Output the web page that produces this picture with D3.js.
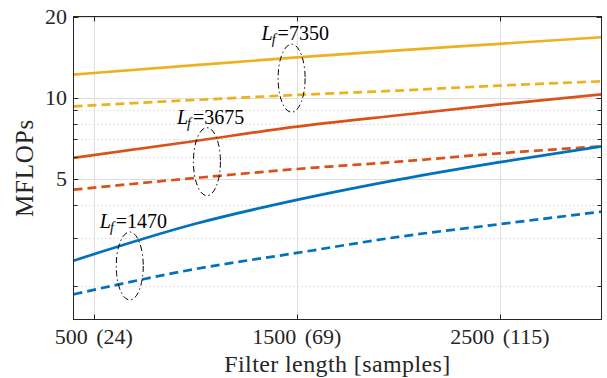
<!DOCTYPE html>
<html>
<head>
<meta charset="utf-8">
<script src="https://cdn.jsdelivr.net/npm/d3@7"></script>
<style>
  body { margin: 0; background: #fff; }
  svg { display: block; }
  text { font-family: "Liberation Serif", "Times New Roman", serif; fill: #262626; }
</style>
</head>
<body>
<div id="chart"></div>
<script>
// filter lengths where the curves were read
const filterLen = [400, 1000, 1500, 2000, 2500, 3000];
// MFLOPs per curve (solid / dashed for each L_f)
const yellowSolid  = [12.17, 13.2, 14.1, 14.97, 15.84, 16.75];
const yellowDashed = [9.28, 9.8, 10.23, 10.62, 11.08, 11.49];
const orangeSolid  = [5.97, 6.9, 7.8, 8.6, 9.44, 10.28];
const orangeDashed = [4.55, 5.03, 5.43, 5.78, 6.21, 6.59];
const blueSolid    = [2.48, 3.4, 4.17, 4.96, 5.76, 6.59];
const blueDashed   = [1.86, 2.31, 2.65, 3.04, 3.39, 3.77];

const xTicks = [500, 1500, 2500];
const xTickLabels = ["500 (24)", "1500 (69)", "2500 (115)"];
const yTicks = [5, 10, 20];
const yMinorTicks = [2, 3, 4, 6, 7, 8, 9];

// ellipse annotations
const annLf = ["1470", "3675", "7350"];
const annX = [677, 1057, 1474];
const annY = [2.37, 5.78, 11.8];

const W = 607, H = 378;
const margin = {top: 16.5, right: 5.5, bottom: 58.5, left: 73.5};

const svg = d3.select("#chart").append("svg")
  .attr("width", W)
  .attr("height", H);

const x = d3.scaleLinear().domain([400, 3000]).range([margin.left, W - margin.right]);
const y = d3.scaleLog().domain([1.5, 20]).range([H - margin.bottom, margin.top]);

const x0 = x.range()[0], x1 = x.range()[1];
const y0 = y.range()[0], y1 = y.range()[1];

// grid
const grid = svg.append("g");
grid.selectAll(".ygridMinor").data(yMinorTicks).enter().append("line")
  .attr("x1", x0).attr("x2", x1)
  .attr("y1", d => Math.round(y(d)) + 0.5).attr("y2", d => Math.round(y(d)) + 0.5)
  .style("stroke", "#c4c4c4")
  .style("stroke-dasharray", "1,3")
  .style("stroke-width", "1px");
grid.selectAll(".ygrid").data(yTicks).enter().append("line")
  .attr("x1", x0).attr("x2", x1)
  .attr("y1", d => Math.round(y(d)) + 0.5).attr("y2", d => Math.round(y(d)) + 0.5)
  .style("stroke", "#dedede")
  .style("stroke-width", "1px");
grid.selectAll(".xgrid").data(xTicks).enter().append("line")
  .attr("x1", d => Math.round(x(d)) + 0.5).attr("x2", d => Math.round(x(d)) + 0.5)
  .attr("y1", y0).attr("y2", y1)
  .style("stroke", "#dedede")
  .style("stroke-width", "1px");

// curves
const series = [
  {v: yellowSolid, c: "#EDB120", dash: null},
  {v: yellowDashed, c: "#EDB120", dash: "9,5"},
  {v: orangeSolid, c: "#D95319", dash: null},
  {v: orangeDashed, c: "#D95319", dash: "9,5"},
  {v: blueSolid, c: "#0072BD", dash: null},
  {v: blueDashed, c: "#0072BD", dash: "9,5"}
];

const line = d3.line()
  .x((d, i) => x(filterLen[i]))
  .y(d => y(d))
  .curve(d3.curveMonotoneX);

svg.append("g").selectAll("path").data(series).enter().append("path")
  .attr("d", d => line(d.v))
  .style("fill", "none")
  .style("stroke", d => d.c)
  .style("stroke-width", "2.7px")
  .style("stroke-dasharray", d => d.dash);

// axes box + inward ticks
const ax = svg.append("g").style("stroke", "#262626").style("stroke-width", "1px");
ax.append("rect")
  .attr("x", x0).attr("y", y1)
  .attr("width", x1 - x0).attr("height", y0 - y1)
  .style("fill", "none");

xTicks.forEach(function (t) {
  let px = Math.round(x(t)) + 0.5;
  ax.append("line").attr("x1", px).attr("x2", px).attr("y1", y0).attr("y2", y0 - 5);
  ax.append("line").attr("x1", px).attr("x2", px).attr("y1", y1).attr("y2", y1 + 5);
});
yTicks.concat(yMinorTicks).forEach(function (t) {
  let py = Math.round(y(t)) + 0.5;
  let len = yTicks.indexOf(t) >= 0 ? 5 : 4;
  ax.append("line").attr("x1", x0).attr("x2", x0 + len).attr("y1", py).attr("y2", py);
  ax.append("line").attr("x1", x1).attr("x2", x1 - len).attr("y1", py).attr("y2", py);
});

// tick labels
svg.append("g").selectAll("text").data(xTicks).enter().append("text")
  .attr("x", d => x(d))
  .attr("y", 344)
  .attr("text-anchor", "middle")
  .style("font-size", "22px")
  .style("word-spacing", "3px")
  .text((d, i) => xTickLabels[i]);

svg.append("g").selectAll("text").data(yTicks).enter().append("text")
  .attr("x", 67)
  .attr("y", d => y(d))
  .attr("dy", "0.33em")
  .attr("text-anchor", "end")
  .style("font-size", "22px")
  .text(d => d);

// axis labels
svg.append("text")
  .attr("x", (x0 + x1) / 2)
  .attr("y", 372)
  .attr("text-anchor", "middle")
  .style("font-size", "24px")
  .style("letter-spacing", "0.4px")
  .text("Filter length [samples]");

svg.append("text")
  .attr("transform", "translate(33," + ((y0 + y1) / 2) + ") rotate(-90)")
  .attr("text-anchor", "middle")
  .style("font-size", "25px")
  .style("letter-spacing", "0.8px")
  .text("MFLOPs");

// annotations
const ann = svg.append("g").selectAll("g").data(annLf).enter().append("g");
ann.append("ellipse")
  .attr("cx", (d, i) => x(annX[i]))
  .attr("cy", (d, i) => y(annY[i]))
  .attr("rx", 13.5)
  .attr("ry", 34)
  .style("fill", "none")
  .style("stroke", "#000")
  .style("stroke-width", "1px")
  .style("stroke-dasharray", "6,3,1.5,3");

const lab = ann.append("text")
  .attr("x", (d, i) => x(annX[i]) - 30)
  .attr("y", (d, i) => y(annY[i]) - 38)
  .style("font-size", "20px")
  .style("fill", "#000");
lab.append("tspan").style("font-style", "italic").text("L");
lab.append("tspan").style("font-style", "italic").style("font-size", "14px").attr("dy", 4).attr("dx", -1).text("f");
lab.append("tspan").attr("dy", -4).attr("dx", 2).text(d => "=" + d);
</script>
</body>
</html>
